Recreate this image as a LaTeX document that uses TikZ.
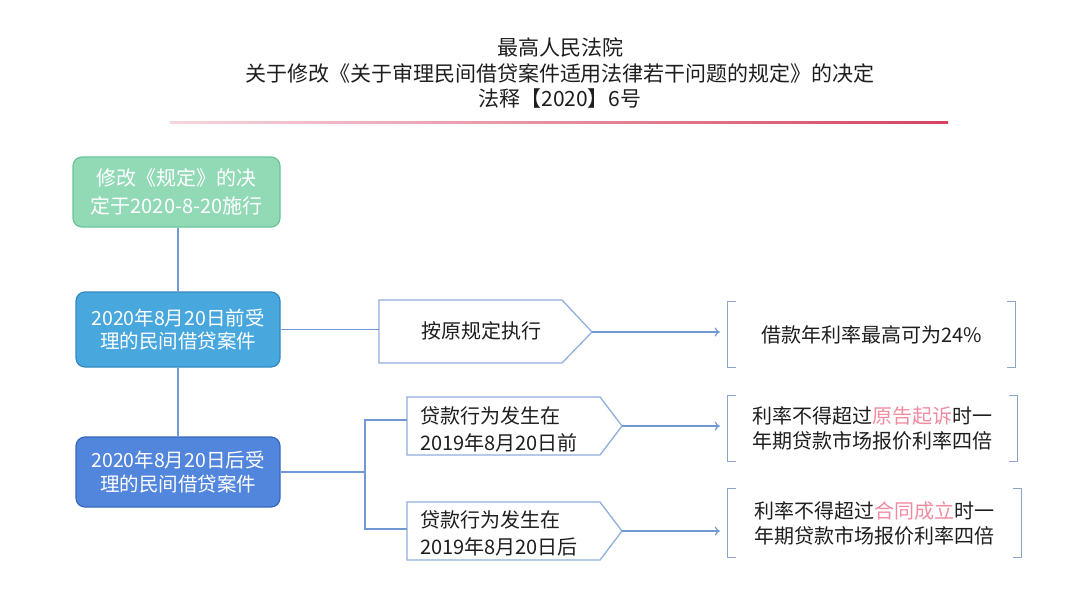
\documentclass[tikz,border=0pt]{standalone}
\usepackage{fontspec}
\setmainfont{Noto Sans CJK SC}
\usetikzlibrary{arrows.meta}
\definecolor{gfill}{RGB}{146,218,182}
\definecolor{gdraw}{RGB}{104,196,150}
\definecolor{bAfill}{RGB}{72,168,222}
\definecolor{bAdraw}{RGB}{52,136,192}
\definecolor{bBfill}{RGB}{82,134,220}
\definecolor{bBdraw}{RGB}{56,104,190}
\definecolor{connc}{RGB}{112,152,210}
\definecolor{pentc}{RGB}{143,175,220}
\definecolor{brc}{RGB}{140,165,205}
\definecolor{pinkc}{RGB}{240,140,162}
\definecolor{redL}{RGB}{246,214,222}
\definecolor{redR}{RGB}{214,66,96}
\definecolor{txtc}{RGB}{30,30,30}
\begin{document}
\begin{tikzpicture}[x=1pt,y=-1pt,
  mainbox/.style={rounded corners=9pt, line width=1.2pt, text=white, align=center, inner sep=0pt, minimum width=204pt},
  conn/.style={draw=connc, line width=1.2pt},
  arr/.style={conn, -{To[length=5pt,width=9pt]}, shorten >=8pt},
  pent/.style={draw=pentc, line width=1.3pt, fill=white},
  brnode/.style={inner sep=0pt, align=center, text=txtc, font=\fontsize{20}{25}\selectfont},
  br/.style={draw=brc, line width=1.2pt},
  ptxt/.style={inner sep=0pt, text=txtc, font=\fontsize{20}{27}\selectfont}
]
\useasboundingbox[fill=white] (0,0) rectangle (1080,600);

% title
\node[font=\fontsize{21}{25.5}\selectfont, align=center, text=txtc] (title) at (560,73)
  {最高人民法院\\关于修改《关于审理民间借贷案件适用法律若干问题的规定》的决定\\法释【2020】6号};
\shade[left color=redL, right color=redR] (170,121) rectangle (948,123.2);

% left column
\node[mainbox, fill=gfill, draw=gdraw, minimum width=207pt, minimum height=70pt,
      font=\fontsize{20}{27.5}\selectfont] (g) at (176.5,192) {修改《规定》的决\\定于2020-8-20施行};
\node[mainbox, fill=bAfill, draw=bAdraw, minimum height=75pt,
      font=\fontsize{19.5}{23.5}\selectfont] (b1) at (178,329.5) {2020年8月20日前受\\理的民间借贷案件};
\node[mainbox, fill=bBfill, draw=bBdraw, minimum height=70pt,
      font=\fontsize{19.5}{24}\selectfont] (b2) at (178,472) {2020年8月20日后受\\理的民间借贷案件};
\draw[conn] (b1.north |- g.south) -- (b1.north);
\draw[conn] (b1.south) -- (b2.north);

% pentagons
\draw[pent] (379,300) -- (562,300) -- (592,332) -- (562,363) -- (379,363) -- cycle;
\draw[pent] (407,397) -- (600,397) -- (622,426) -- (600,455) -- (407,455) -- cycle;
\draw[pent] (407,502) -- (600,502) -- (622,531) -- (600,560) -- (407,560) -- cycle;
\coordinate (p1in) at (379,330);
\coordinate (p2in) at (407,420);
\coordinate (p3in) at (407,529);
\coordinate (p1tip) at (592,332);
\coordinate (p2tip) at (622,426);
\coordinate (p3tip) at (622,531);
\coordinate (j) at (365,472);
\node[ptxt] (t1) at (481,331) {按原规定执行};
\node[ptxt, anchor=west, align=left] (t2) at (420,429) {贷款行为发生在\\2019年8月20日前};
\node[ptxt, anchor=west, align=left] (t3) at (420,533) {贷款行为发生在\\2019年8月20日后};

% connectors left -> pentagons
\draw[conn] (b1.east) -- (b1.east -| p1in);
\draw[conn] (b2.east) -- (j);
\draw[conn] (p2in) -| (j);
\draw[conn] (p3in) -| (j);

% bracket nodes
\node[brnode, minimum width=287pt, minimum height=65pt] (r1) at (871.5,334.5) {借款年利率最高可为24\%};
\node[brnode, minimum width=289pt, minimum height=65pt] (r2) at (872.5,428.5)
  {利率不得超过\textcolor{pinkc}{原告起诉}时一\\年期贷款市场报价利率四倍};
\node[brnode, minimum width=293pt, minimum height=68pt] (r3) at (874.5,523)
  {利率不得超过\textcolor{pinkc}{合同成立}时一\\年期贷款市场报价利率四倍};
\foreach \r in {r1,r2,r3}{
  \draw[br] ([xshift=8pt]\r.north west) -- (\r.north west) -- (\r.south west) -- ([xshift=8pt]\r.south west);
  \draw[br] ([xshift=-8pt]\r.north east) -- (\r.north east) -- (\r.south east) -- ([xshift=-8pt]\r.south east);
}

% arrows
\draw[arr] (p1tip) -- (p1tip -| r1.west);
\draw[arr] (p2tip) -- (p2tip -| r2.west);
\draw[arr] (p3tip) -- (p3tip -| r3.west);
\end{tikzpicture}
\end{document}
